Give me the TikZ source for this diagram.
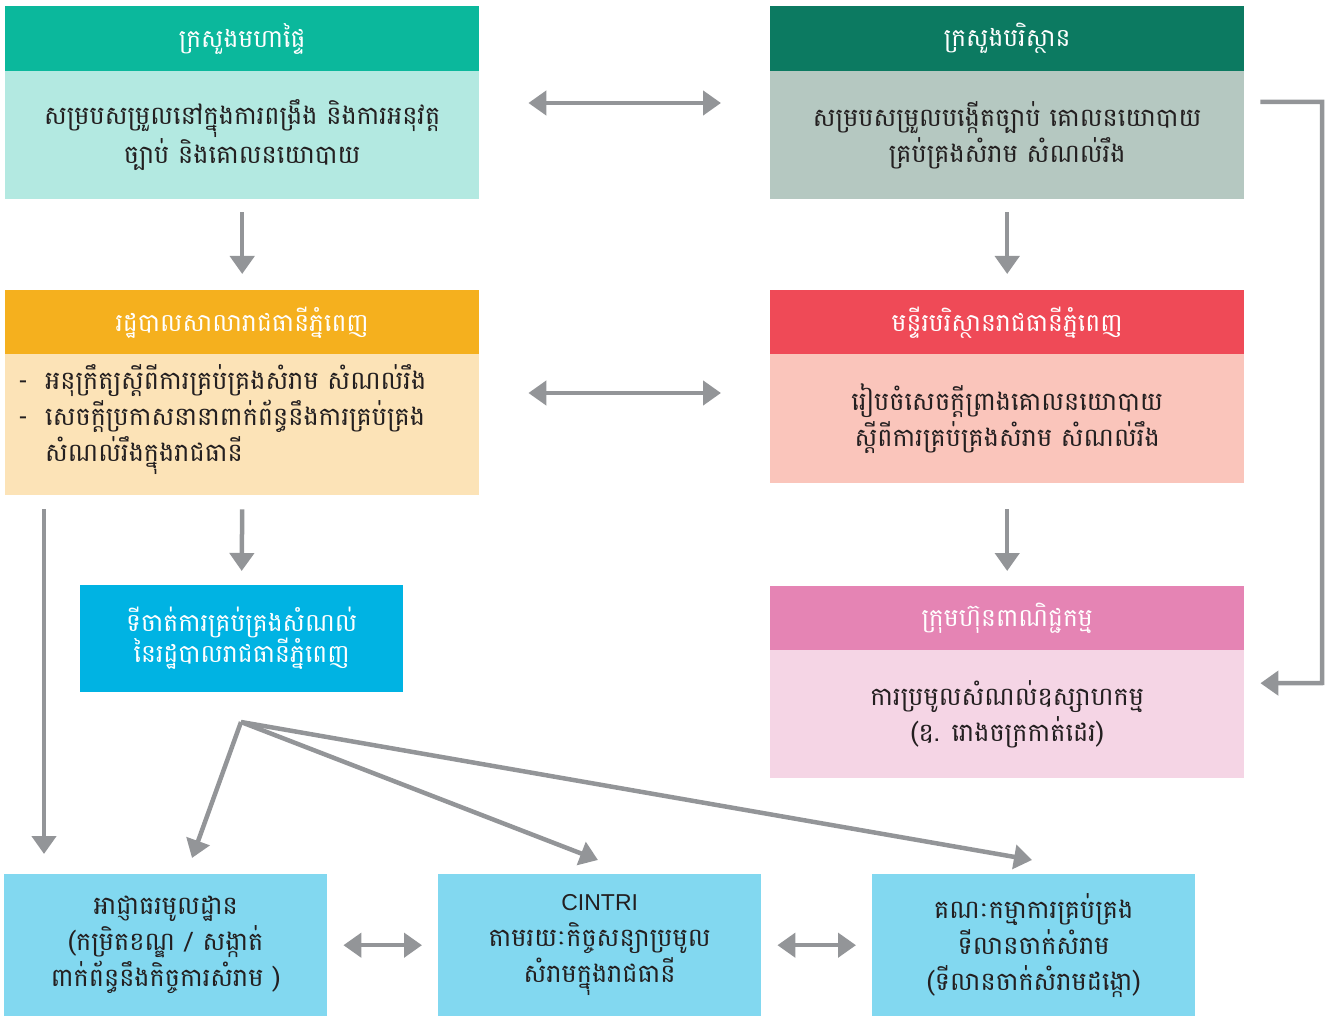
\documentclass[tikz,border=0pt]{standalone}
\usepackage{fontspec}
\setmainfont{Liberation Sans}
\newfontfamily\khmer[Script=Khmer]{Battambang}
\usetikzlibrary{arrows.meta,positioning,calc}

\definecolor{moiHead}{HTML}{0BB89C}
\definecolor{moiFill}{HTML}{B3E9E1}
\definecolor{moeHead}{HTML}{0C7A61}
\definecolor{moeFill}{HTML}{B5C8C1}
\definecolor{cityHead}{HTML}{F5B01E}
\definecolor{cityFill}{HTML}{FCE3B7}
\definecolor{deptHead}{HTML}{EF4A57}
\definecolor{deptFill}{HTML}{FAC5BB}
\definecolor{firmHead}{HTML}{E584B4}
\definecolor{firmFill}{HTML}{F5D5E5}
\definecolor{siteFill}{HTML}{00B3E3}
\definecolor{lowFill}{HTML}{82D8F0}
\definecolor{arrowGray}{HTML}{939598}
\definecolor{inkText}{HTML}{231F20}

\newcommand{\headfont}{\khmer\fontsize{25}{31}\selectfont}
\newcommand{\bodyfont}{\khmer\fontsize{25.5}{36}\selectfont}

\begin{document}
\begin{tikzpicture}[x=1pt, y=-1pt,
        head/.style={anchor=north west, inner sep=0, minimum width=474,
            minimum height=65, text=white, font=\headfont},
        body/.style={anchor=north west, inner sep=0, minimum width=474,
            text=inkText, font=\bodyfont, align=center},
        low/.style={anchor=north west, inner sep=0, minimum width=323,
            minimum height=142, fill=lowFill, text=inkText, font=\bodyfont,
            align=center},
        arr/.style={draw=arrowGray, line width=4.5pt,
            -{Triangle[length=18pt,width=24pt]}},
        twoway/.style={arr, {Triangle[length=18pt,width=24pt]}-{Triangle[length=18pt,width=24pt]}}]

        % Page frame
        \useasboundingbox (0,0) rectangle (1334,1016);

        % Ministries on the top row
        \node (moiHead) [head, fill=moiHead] at (5,6) {ក្រសួងមហាផ្ទៃ};
        \node (moiBody) [body, fill=moiFill, minimum height=128] at (5,71)
            {សម្របសម្រួលនៅក្នុងការពង្រឹង និងការអនុវត្ត\\ច្បាប់ និងគោលនយោបាយ};
        \node (moeHead) [head, fill=moeHead] at (770,6) {ក្រសួងបរិស្ថាន};
        \node (moeBody) [body, fill=moeFill, minimum height=128] at (770,71)
            {សម្របសម្រួលបង្កើតច្បាប់ គោលនយោបាយ\\គ្រប់គ្រងសំរាម សំណល់រឹង};

        % City level
        \node (cityHead) [head, fill=cityHead] at (5,290) {រដ្ឋបាលសាលារាជធានីភ្នំពេញ};
        \node (cityBody) [body, fill=cityFill, minimum height=141] at (5,354) {};
        \node (cityText) [anchor=west, inner sep=0, text=inkText, font=\bodyfont,
            align=left] at (18,420)
            {\makebox[27pt][l]{-}អនុក្រឹត្យស្តីពីការគ្រប់គ្រងសំរាម សំណល់រឹង\\
             \makebox[27pt][l]{-}សេចក្តីប្រកាសនានាពាក់ព័ន្ធនឹងការគ្រប់គ្រង\\
             \hspace*{27pt}សំណល់រឹងក្នុងរាជធានី};
        \node (deptHead) [head, fill=deptHead] at (770,290) {មន្ទីរបរិស្ថានរាជធានីភ្នំពេញ};
        \node (deptBody) [body, fill=deptFill, minimum height=129] at (770,354)
            {រៀបចំសេចក្តីព្រាងគោលនយោបាយ\\ស្តីពីការគ្រប់គ្រងសំរាម សំណល់រឹង};

        % Disposal site and companies
        \node (site) [anchor=north west, inner sep=0, minimum width=323,
            minimum height=107, fill=siteFill, text=white, font=\headfont,
            align=center] at (80,585)
            {ទីចាត់ការគ្រប់គ្រងសំណល់\\នៃរដ្ឋបាលរាជធានីភ្នំពេញ};
        \node (firmHead) [head, fill=firmHead] at (770,586) {ក្រុមហ៊ុនពាណិជ្ជកម្ម};
        \node (firmBody) [body, fill=firmFill, minimum height=128] at (770,650)
            {ការប្រមូលសំណល់ឧស្សាហកម្ម\\(ឧ. រោងចក្រកាត់ដេរ)};

        % Bottom row
        \node (local) [low] at (4,874)
            {អាជ្ញាធរមូលដ្ឋាន\\(កម្រិតខណ្ឌ / សង្កាត់\\ពាក់ព័ន្ធនឹងកិច្ចការសំរាម )};
        \node (cintri) [low] at (438,874)
            {{\rmfamily\fontsize{23}{36}\selectfont CINTRI}\\តាមរយៈកិច្ចសន្យាប្រមូល\\សំរាមក្នុងរាជធានី};
        \node (committee) [low] at (872,874)
            {គណៈកម្មាការគ្រប់គ្រង\\ទីលានចាក់សំរាម\\(ទីលានចាក់សំរាមដង្កោ)};

        % Arrow end points
        \coordinate (fanTop) at (241,722);
        \coordinate (toLocal) at (192,858);
        \coordinate (toCintri) at (598,860);
        \coordinate (toCommittee) at (1032,860);
        \coordinate (loopTop) at (1322,102);
        \coordinate (loopBottom) at (1322,683);

        \begin{scope}
            % Two-way links between the columns
            \draw [twoway] ($(moiBody.north east)+(49,32)$) -- ($(moeBody.north west)+(-49,32)$);
            \draw [twoway] ($(cityBody.north east)+(49,39)$) -- ($(deptBody.north west)+(-49,39)$);
            \draw [twoway] ($(local.east)+(16,0)$) -- ($(cintri.west)+(-16,0)$);
            \draw [twoway] ($(cintri.east)+(16,0)$) -- ($(committee.west)+(-16,0)$);

            % Downward links
            \draw [arr] ($(moiBody.south)+(0,13)$) -- ($(cityHead.north)+(0,-16)$);
            \draw [arr] ($(moeBody.south)+(0,13)$) -- ($(deptHead.north)+(0,-16)$);
            \draw [arr] ($(cityBody.south)+(0,14)$) -- ($(site.north)+(0,-14)$);
            \draw [arr] ($(deptBody.south)+(0,26)$) -- ($(firmHead.north)+(0,-15)$);
            \draw [arr] ($(cityBody.south west)+(39,14)$) -- ($(local.north west)+(40,-20)$);

            % Fan out from the disposal site
            \draw [arr] (fanTop) -- (toLocal);
            \draw [arr] (fanTop) -- (toCintri);
            \draw [arr] (fanTop) -- (toCommittee);

            % Ministry of environment to companies
            \draw [arr] ($(moeBody.north east)+(16,31)$) -- (loopTop) -- (loopBottom)
                -- ($(firmBody.east)+(16,-31)$);
        \end{scope}
\end{tikzpicture}
\end{document}
